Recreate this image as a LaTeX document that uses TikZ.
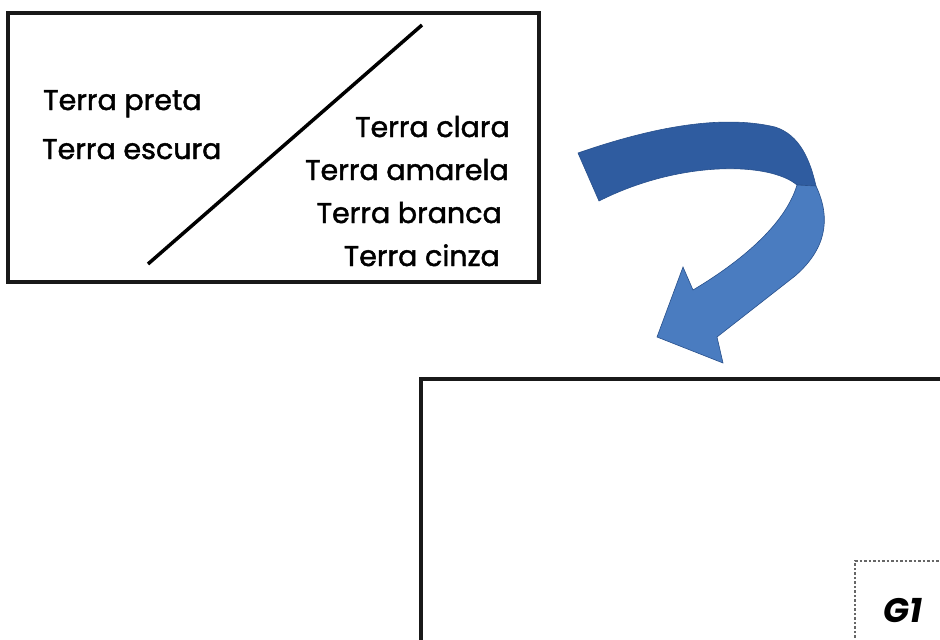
\documentclass[tikz,border=0pt]{standalone}
\usepackage{fontspec}
\setmainfont[FakeBold=1.6]{Poppins}
\newfontfamily\gfont{Poppins}
\definecolor{darkblue}{RGB}{47,92,160}
\definecolor{lightblue}{RGB}{74,124,192}
\definecolor{edgeblue}{RGB}{40,80,140}
\tikzset{
  lbl/.style={font=\fontsize{28.5}{31}\selectfont, inner sep=0pt},
  frame/.style={line width=3.5pt, draw=black!90},
}
\begin{document}
\begin{tikzpicture}[x=1pt,y=-1pt]
\useasboundingbox (0,0) rectangle (940,640);
\clip (0,0) rectangle (940,640);
\fill[white] (0,0) rectangle (940,640);
% top box
\draw[frame] (8,13) rectangle (539,282);
\coordinate (d1) at (148,264);
\coordinate (d2) at (422,25);
\draw[line width=3.5pt] (d1) -- (d2);
\node[lbl, anchor=base west] (preta) at (43,110) {Terra preta};
\node[lbl, anchor=base west] (escura) at (42,159) {Terra escura};
\node[lbl, anchor=base east] (clara) at (510,137) {Terra clara};
\node[lbl, anchor=base east] (amarela) at (509,180) {Terra amarela};
\node[lbl, anchor=base east] (branca) at (502,223) {Terra branca};
\node[lbl, anchor=base east] (cinza) at (500,266) {Terra cinza};
% curved arrow: upper (dark) band
\fill[darkblue, draw=edgeblue, line width=0.6pt]
  (578,153) .. controls (650,128) and (720,114) .. (775,127)
  .. controls (800,135) and (810,160) .. (816,186)
  -- (797,185)
  .. controls (770,162) and (680,160) .. (599,201) -- cycle;
% lower (light) band with head
\fill[lightblue, draw=edgeblue, line width=0.6pt]
  (797,185) -- (816,186)
  .. controls (832,220) and (825,250) .. (795,276)
  -- (717,337) -- (723,363) -- (657,337) -- (683,267) -- (693,290)
  .. controls (740,262) and (785,225) .. (797,185) -- cycle;
% bottom box
\draw[frame] (421,379) rectangle (960,660);
\draw[dash pattern=on 2.5pt off 2pt, line width=2pt, black!60] (855,660) -- (855,561) -- (960,561);
\node[inner sep=0pt, anchor=base, font=\gfont\bfseries\itshape\fontsize{34}{36}\selectfont] (g1) at (903,622) {G1};
\end{tikzpicture}
\end{document}
